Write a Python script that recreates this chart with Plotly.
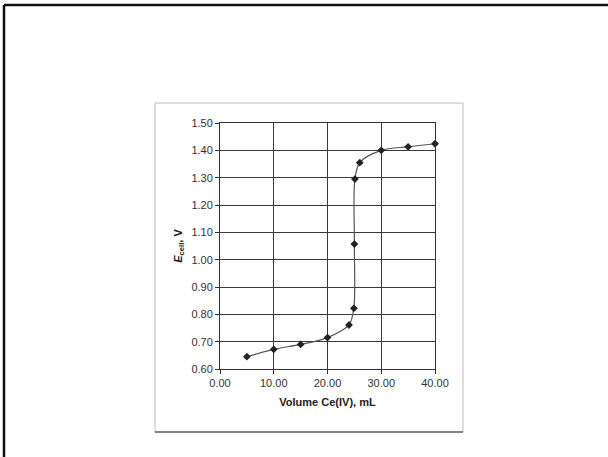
import plotly.graph_objects as go

volume_ml = [5.00, 10.00, 15.00, 20.00, 24.00, 24.90, 25.00, 25.10, 26.00, 30.00, 35.00, 40.00]
potential_v = [0.645, 0.672, 0.690, 0.715, 0.761, 0.822, 1.057, 1.295, 1.355, 1.400, 1.413, 1.424]
x_ticks = [0, 10, 20, 30, 40]
y_ticks = [0.60, 0.70, 0.80, 0.90, 1.00, 1.10, 1.20, 1.30, 1.40, 1.50]

W, H = 608, 457
L, R, T, B = 220, 435, 123, 369  # plot area pixel box


def px(x):
    return (x - L) / (R - L)


def py(y):
    return (B - y) / (B - T)


fig = go.Figure()
fig.add_trace(go.Scatter(
    x=volume_ml, y=potential_v, mode="lines+markers",
    line=dict(color="#555555", width=1.2, shape="spline", smoothing=0.9),
    marker=dict(symbol="diamond", size=6, color="#222222"),
    showlegend=False, cliponaxis=False,
))

axis_font = dict(family="Arial, Liberation Sans, sans-serif", size=11, color="#333333")
title_font = dict(family="Arial, Liberation Sans, sans-serif", size=11, color="#222222")

fig.update_xaxes(
    range=[0, 40], tickvals=x_ticks, ticktext=[f"{v:.2f}" for v in x_ticks],
    showgrid=True, gridcolor="#3a3a3a", gridwidth=1,
    showline=True, linecolor="#333333", linewidth=1, mirror=True,
    ticks="outside", ticklen=4, tickcolor="#333333",
    tickfont=axis_font, zeroline=False,
    title=dict(text="<b>Volume Ce(IV), mL</b>", font=title_font, standoff=10),
)
fig.update_yaxes(
    range=[0.60, 1.50], tickvals=y_ticks, ticktext=[f"{v:.2f}" for v in y_ticks],
    showgrid=True, gridcolor="#3a3a3a", gridwidth=1,
    showline=True, linecolor="#333333", linewidth=1, mirror=True,
    ticks="outside", ticklen=4, tickcolor="#333333",
    tickfont=axis_font, zeroline=False,
    title=dict(text="<b><i>E</i><sub>cell</sub>, V</b>", font=title_font, standoff=6),
)

shapes = [
    # inner picture frame
    dict(type="rect", xref="paper", yref="paper",
         x0=px(155), x1=px(463), y0=py(432), y1=py(103),
         line=dict(color="#bbbbbb", width=1), layer="below"),
    dict(type="line", xref="paper", yref="paper",
         x0=px(155), x1=px(463), y0=py(432), y1=py(432),
         line=dict(color="#666666", width=1.5)),
    # slide border (top and left)
    dict(type="line", xref="paper", yref="paper",
         x0=px(4), x1=px(610), y0=py(5), y1=py(5),
         line=dict(color="#111111", width=2.5)),
    dict(type="line", xref="paper", yref="paper",
         x0=px(4), x1=px(4), y0=py(5), y1=py(460),
         line=dict(color="#111111", width=2.5)),
]

fig.update_layout(
    width=W, height=H,
    margin=dict(l=L, r=W - R, t=T, b=H - B),
    paper_bgcolor="white", plot_bgcolor="white",
    shapes=shapes,
)

fig.write_html("out.html", config={"displayModeBar": False},
               post_script="document.body.style.margin='0';document.body.style.padding='0';")
